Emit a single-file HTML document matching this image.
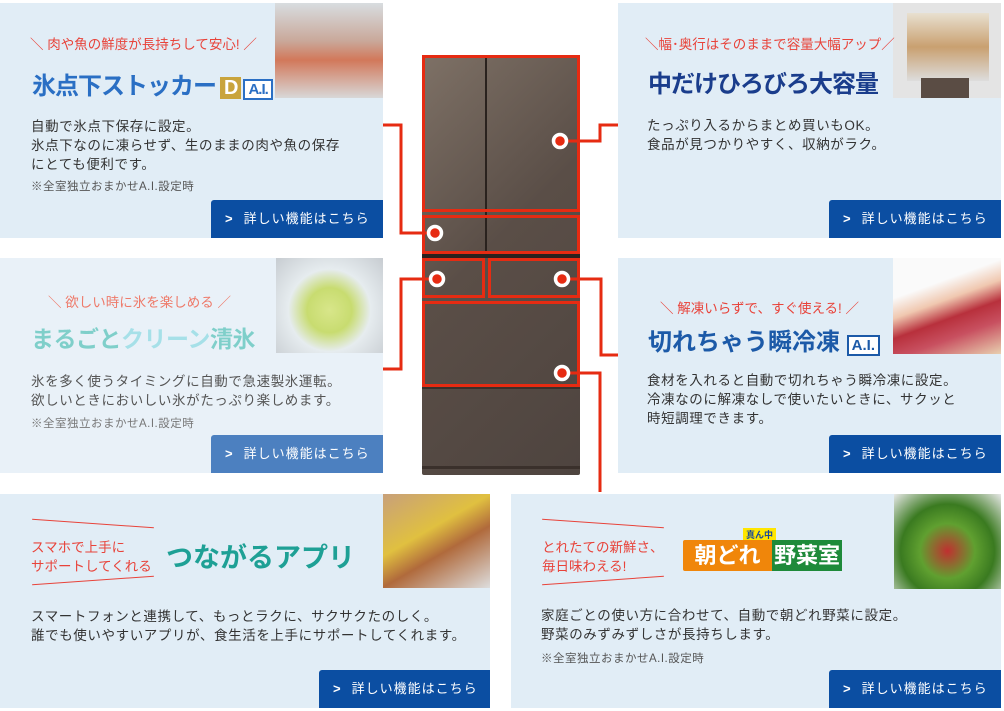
<!DOCTYPE html>
<html><head><meta charset="utf-8"><style>
*{margin:0;padding:0;box-sizing:border-box}
body{width:1004px;height:711px;background:#fff;position:relative;overflow:hidden;font-family:"Liberation Sans","Noto Sans CJK JP",sans-serif;color:#333}
.card{position:absolute;background:#e1edf6}
.img{position:absolute}
.btn{position:absolute;width:172px;height:38px;background:#0b4ea2;color:#fff;font-size:13px;line-height:38px;padding-left:14px;border-radius:3px 0 0 0;letter-spacing:1px}
.btn b{font-weight:bold;margin-right:10px}
.t{position:absolute;font-size:13.5px;letter-spacing:0.6px;line-height:19px;white-space:nowrap;color:#333}
.n{position:absolute;font-size:11.5px;letter-spacing:0.5px;color:#555;white-space:nowrap}
.c{position:absolute;font-size:13.5px;color:#e8433a;white-space:nowrap}
.h{position:absolute;white-space:nowrap;font-weight:bold}
.r{position:absolute;border:3px solid #e62b12}
</style></head><body>

<!-- top-left -->
<div class="card" style="left:0;top:3px;width:383px;height:235px"></div>
<div class="img" style="left:275px;top:3px;width:108px;height:95px;background:linear-gradient(#d8dde0,#c9a89a 40%,#d2785a 60%,#d8d8d8)"></div>
<div class="c" style="left:30px;top:33px">＼ 肉や魚の鮮度が長持ちして安心! ／</div>
<div class="h" style="left:32px;top:66px;font-size:24px;color:#2a6fc4;letter-spacing:-1px">氷点下ストッカー<span style="background:#c9a43c;color:#fff;padding:0 4px;margin-left:4px;font-size:20px">D</span><span style="border:2px solid #2a6fc4;background:#fff;font-size:15px;padding:0 3px;margin-left:2px">A.I.</span></div>
<div class="t" style="left:31px;top:117px">自動で氷点下保存に設定。<br>氷点下なのに凍らせず、生のままの肉や魚の保存<br>にとても便利です。</div>
<div class="n" style="left:31px;top:178px">※全室独立おまかせA.I.設定時</div>
<div class="btn" style="left:211px;top:200px"><b>&gt;</b>詳しい機能はこちら</div>

<!-- top-right -->
<div class="card" style="left:618px;top:3px;width:383px;height:235px"></div>
<div class="img" style="left:893px;top:3px;width:108px;height:95px;background:#e4e4e4"><div style="position:absolute;left:14px;top:10px;width:82px;height:68px;background:linear-gradient(#e8e0d0,#c9a070 50%,#ddd)"></div><div style="position:absolute;left:28px;top:75px;width:48px;height:20px;background:#5a4c44"></div></div>
<div class="c" style="left:645px;top:33px">＼幅･奥行はそのままで容量大幅アップ／</div>
<div class="h" style="left:648px;top:64px;font-size:24px;color:#1a3d8c;letter-spacing:-1px">中だけひろびろ大容量</div>
<div class="t" style="left:647px;top:116px">たっぷり入るからまとめ買いもOK。<br>食品が見つかりやすく、収納がラク。</div>
<div class="btn" style="left:829px;top:200px"><b>&gt;</b>詳しい機能はこちら</div>

<!-- mid-left -->
<div class="card" style="left:0;top:258px;width:383px;height:215px;background:#e9f1f8"></div>
<div class="img" style="left:276px;top:258px;width:107px;height:95px;background:radial-gradient(circle at 50% 55%,#d8e68a 0,#c8dc70 30%,#e6ecef 55%,#c7ccd1 100%)"></div>
<div class="c" style="left:48px;top:291px;color:#ee7a6a">＼ 欲しい時に氷を楽しめる ／</div>
<div class="h" style="left:31px;top:320px;font-size:23px;color:#7fcfca;letter-spacing:-0.5px">まるごと<span style="color:#a6e0e8">クリーン</span>清氷</div>
<div class="t" style="left:31px;top:372px;color:#555">氷を多く使うタイミングに自動で急速製氷運転。<br>欲しいときにおいしい氷がたっぷり楽しめます。</div>
<div class="n" style="left:31px;top:415px;color:#777">※全室独立おまかせA.I.設定時</div>
<div class="btn" style="left:211px;top:435px;background:#4c80c0"><b>&gt;</b>詳しい機能はこちら</div>

<!-- mid-right -->
<div class="card" style="left:618px;top:258px;width:383px;height:215px"></div>
<div class="img" style="left:893px;top:258px;width:108px;height:96px;background:linear-gradient(160deg,#fafafa 30%,#f0c8b0 45%,#b8303c 60%,#c85060 75%,#e8d0b0)"></div>
<div class="c" style="left:660px;top:297px">＼ 解凍いらずで、すぐ使える! ／</div>
<div class="h" style="left:648px;top:322px;font-size:24px;color:#1c5aa8">切れちゃう瞬冷凍 <span style="border:2px solid #1c5aa8;background:#fff;font-size:15px;padding:0 3px">A.I.</span></div>
<div class="t" style="left:647px;top:371px">食材を入れると自動で切れちゃう瞬冷凍に設定。<br>冷凍なのに解凍なしで使いたいときに、サクッと<br>時短調理できます。</div>
<div class="btn" style="left:829px;top:435px"><b>&gt;</b>詳しい機能はこちら</div>

<!-- bottom-left -->
<div class="card" style="left:0;top:494px;width:490px;height:214px"></div>
<div class="img" style="left:383px;top:494px;width:107px;height:94px;background:linear-gradient(150deg,#c8a07a,#e0c040 40%,#b06a3c 60%,#ddd)"></div>
<div style="position:absolute;left:32px;top:523px;width:122px;height:1px;background:#e8433a;transform:rotate(4deg)"></div>
<div style="position:absolute;left:32px;top:580px;width:122px;height:1px;background:#e8433a;transform:rotate(-4deg)"></div>
<div class="c" style="left:31px;top:538px;line-height:19px">スマホで上手に<br>サポートしてくれる</div>
<div class="h" style="left:166px;top:536px;font-size:27px;color:#1ea095">つながるアプリ</div>
<div class="t" style="left:31px;top:607px">スマートフォンと連携して、もっとラクに、サクサクたのしく。<br>誰でも使いやすいアプリが、食生活を上手にサポートしてくれます。</div>
<div class="btn" style="left:319px;top:670px;width:171px"><b>&gt;</b>詳しい機能はこちら</div>

<!-- bottom-right -->
<div class="card" style="left:511px;top:494px;width:490px;height:214px"></div>
<div class="img" style="left:894px;top:494px;width:107px;height:95px;background:radial-gradient(circle at 50% 60%,#c03030 0,#60a030 35%,#3a7a20 60%,#e8e8e8 100%)"></div>
<div style="position:absolute;left:542px;top:523px;width:122px;height:1px;background:#e8433a;transform:rotate(4deg)"></div>
<div style="position:absolute;left:542px;top:580px;width:122px;height:1px;background:#e8433a;transform:rotate(-4deg)"></div>
<div class="c" style="left:542px;top:538px;line-height:19px">とれたての新鮮さ、<br>毎日味わえる!</div>
<div style="position:absolute;left:743px;top:528px;background:#ffe600;color:#1a4a9a;font-size:9px;font-weight:bold;padding:0 3px">真ん中</div>
<div class="h" style="left:683px;top:540px;height:31px;width:89px;background:#f0860a;color:#fff;font-size:22px;line-height:31px;text-align:center;border-radius:2px 0 0 2px">朝どれ</div>
<div class="h" style="left:772px;top:540px;height:31px;width:70px;background:#1e8a3a;color:#fff;font-size:22px;line-height:31px;text-align:center">野菜室</div>
<div class="t" style="left:541px;top:606px">家庭ごとの使い方に合わせて、自動で朝どれ野菜に設定。<br>野菜のみずみずしさが長持ちします。</div>
<div class="n" style="left:541px;top:650px">※全室独立おまかせA.I.設定時</div>
<div class="btn" style="left:829px;top:670px"><b>&gt;</b>詳しい機能はこちら</div>

<!-- fridge -->
<div style="position:absolute;left:422px;top:55px;width:158px;height:420px;background:linear-gradient(135deg,#7e7166,#5a4e47 45%,#4e443f);border-radius:2px"></div>
<div style="position:absolute;left:485px;top:57px;width:2px;height:198px;background:#2a221e"></div>
<div style="position:absolute;left:422px;top:253px;width:158px;height:5px;background:#2a221e"></div>
<div style="position:absolute;left:422px;top:386px;width:158px;height:3px;background:#3a302b"></div>
<div style="position:absolute;left:422px;top:466px;width:158px;height:3px;background:#3a302b"></div>
<div class="r" style="left:422px;top:55px;width:158px;height:157px"></div>
<div class="r" style="left:422px;top:215px;width:158px;height:39px"></div>
<div class="r" style="left:422px;top:258px;width:63px;height:40px"></div>
<div class="r" style="left:488px;top:258px;width:92px;height:40px"></div>
<div class="r" style="left:422px;top:301px;width:158px;height:86px"></div>

<svg style="position:absolute;left:0;top:0" width="1004" height="711">
<g fill="none" stroke="#e62b12" stroke-width="3">
<polyline points="383,125 401,125 401,233 435,233"/>
<polyline points="560,141 600,141 600,125 618,125"/>
<polyline points="437,279 401,279 401,369 383,369"/>
<polyline points="562,279 601,279 601,355 618,355"/>
<polyline points="562,373 600,373 600,492"/>
</g>
<g fill="#e62b12" stroke="#fff" stroke-width="3.5">
<circle cx="435" cy="233" r="6.5"/><circle cx="560" cy="141" r="6.5"/><circle cx="437" cy="279" r="6.5"/><circle cx="562" cy="279" r="6.5"/><circle cx="562" cy="373" r="6.5"/>
</g>
</svg>
</body></html>
